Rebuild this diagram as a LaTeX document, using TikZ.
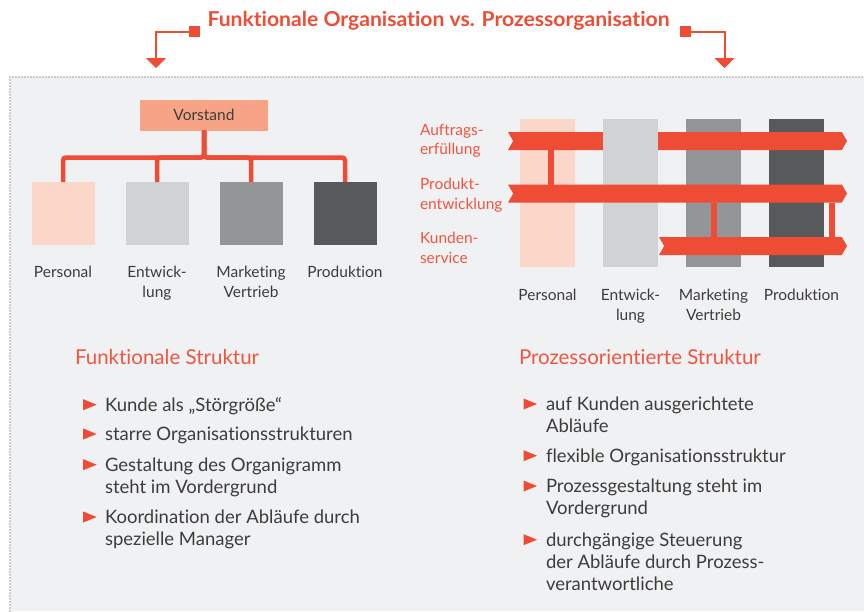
\documentclass[tikz,border=0pt]{standalone}
\usepackage{fontspec}
\setmainfont{Lato}[Ligatures={CommonOff,ContextualOff}]
\usetikzlibrary{trees}
\usetikzlibrary{positioning}
\usetikzlibrary{shapes.symbols}
\usetikzlibrary{shapes.geometric}
\usetikzlibrary{arrows.meta}

\definecolor{orgred}{HTML}{EE4C34}
\definecolor{txtred}{HTML}{EF5641}
\definecolor{vorstandcol}{HTML}{F7A386}
\definecolor{perscol}{HTML}{FBD7C9}
\definecolor{entcol}{HTML}{D1D2D4}
\definecolor{markcol}{HTML}{939598}
\definecolor{prodcol}{HTML}{58595B}
\definecolor{bgcol}{HTML}{F0F1F3}
\definecolor{txtgray}{HTML}{3C3C3C}

\begin{document}
\begin{tikzpicture}[x=1pt,y=-1pt,
    every node/.style={inner sep=0pt,outer sep=0pt,text=txtgray},
    orgline/.style={draw=orgred,line width=4.5pt,rounded corners=3pt},
    vorstandbox/.style={fill=vorstandcol,minimum width=128pt,minimum height=31pt,font=\fontsize{15.5}{19}\selectfont},
    deptbox/.style={minimum width=63pt,minimum height=63pt},
    deptlabel/.style={align=center,font=\fontsize{15.5}{20}\selectfont},
    column/.style={minimum width=55pt,minimum height=148pt},
    band/.style={signal,signal to=east,signal from=west,signal pointer angle=120,fill=orgred,minimum height=18pt},
    bandlink/.style={draw=orgred,line width=6pt},
    bandlabel/.style={align=left,text=txtred,font=\fontsize{15.5}{19.5}\selectfont},
    headline/.style={text=txtred,font=\fontsize{20.5}{24}\selectfont},
    bullet/.style={isosceles triangle,isosceles triangle stretches,fill=orgred,minimum width=11pt,minimum height=13.5pt},
    itemtext/.style={align=left,font=\fontsize{18.5}{22}\selectfont},
    titlearrow/.style={draw=orgred,line width=2pt,-{Triangle[width=20pt,length=10pt]}},
    sq/.style={fill=orgred,minimum size=11pt},
    frame/.style={draw=gray!75,line width=1.6pt,dash pattern=on 0pt off 3pt,line cap=round},
    level distance=98.5pt,sibling distance=94pt,
    edge from parent/.style={orgline},
    edge from parent path={(\tikzparentnode.south) -- +(0pt,-27pt) -| (\tikzchildnode.north)}]
    \useasboundingbox (0,0) rectangle (864,611);
    % background
    \fill[bgcol] (10,77) rectangle (864,611);
    \draw[frame] (10,611) -- (10,77) -- (864,77);

    % title
    \node[anchor=base,text=orgred,font=\bfseries\fontsize{20.5}{24}\selectfont] (title) at (438.5,26) {\scalebox{1.03}[1]{Funktionale Organisation vs. Prozessorganisation}};
    \node[sq] (sqL) at (194.5,31.5) {};
    \node[sq] (sqR) at (685.5,31.5) {};
    \coordinate (tipL) at (156,68);
    \coordinate (tipR) at (724.5,68);
    \draw[titlearrow] (sqL.west) -| (tipL);
    \draw[titlearrow] (sqR.east) -| (tipR);

    % functional structure
    \node[vorstandbox] (vorstand) at (204,115) {Vorstand}
      child {node[deptbox,fill=perscol] (persL) {}}
      child {node[deptbox,fill=entcol] (entL) {}}
      child {node[deptbox,fill=markcol] (markL) {}}
      child {node[deptbox,fill=prodcol] (prodL) {}};
    \node[deptlabel,below=21pt of persL] (persLtxt) {Personal};
    \node[deptlabel,below=21pt of entL] (entLtxt) {Entwick-\\lung};
    \node[deptlabel,below=21pt of markL] (markLtxt) {Marketing\\Vertrieb};
    \node[deptlabel,below=21pt of prodL] (prodLtxt) {Produktion};

    % process structure
    \node[column,fill=perscol] (persR) at (547.5,193) {};
    \node[column,fill=markcol] (markR) at (713.5,193) {};
    \node[column,fill=prodcol] (prodR) at (796.5,193) {};
    \node[band,minimum width=339pt] (auftrag) at (677.5,141) {};
    \node[column,fill=entcol] (entR) at (630.5,193) {};
    \node[band,minimum width=339pt] (produkt) at (677.5,193.5) {};
    \node[band,minimum width=188pt] (kunden) at (753,246) {};
    \coordinate (linkA) at ([xshift=3.5pt]persR.center);
    \coordinate (linkC) at ([xshift=8pt]prodR.east);
    \draw[bandlink] (auftrag.south -| linkA) -- (produkt.north -| linkA);
    \draw[bandlink] (produkt.south -| markR) -- (kunden.north -| markR);
    \draw[bandlink] (produkt.south -| linkC) -- (kunden.north -| linkC);
    \node[bandlabel,anchor=west] (aufLbl) at (420,141) {Auftrags-\\erfüllung};
    \node[bandlabel,anchor=west] (proLbl) at (420,195) {Produkt-\\entwicklung};
    \node[bandlabel,anchor=west] (kunLbl) at (420,248) {Kunden-\\service};
    \node[deptlabel,below=22pt of persR] (persRtxt) {Personal};
    \node[deptlabel,below=22pt of entR] (entRtxt) {Entwick-\\lung};
    \node[deptlabel,below=22pt of markR] (markRtxt) {Marketing\\Vertrieb};
    \node[deptlabel,below=22pt of prodR,xshift=5pt] (prodRtxt) {Produktion};

    % lists
    \node[headline,anchor=base west] (funkHead) at (75,364) {Funktionale Struktur};
    \node[headline,anchor=base west] (prozHead) at (519,364) {Prozessorientierte Struktur};

    \node[bullet,anchor=apex] (fb1) at (96.7,404.7) {};
    \node[itemtext,anchor=north west] (fi1) at (105,396) {\strut Kunde als „Störgröße“};
    \node[bullet,anchor=apex] (fb2) at (96.7,434) {};
    \node[itemtext,anchor=north west] (fi2) at (105,425.3) {\strut starre Organisationsstrukturen};
    \node[bullet,anchor=apex] (fb3) at (96.7,464.7) {};
    \node[itemtext,anchor=north west] (fi3) at (105,456) {\strut Gestaltung des Organigramm\\steht im Vordergrund};
    \node[bullet,anchor=apex] (fb4) at (96.7,517) {};
    \node[itemtext,anchor=north west] (fi4) at (105,508.3) {\strut Koordination der Abläufe durch\\spezielle Manager};

    \node[bullet,anchor=apex] (pb1) at (537,404) {};
    \node[itemtext,anchor=north west] (pi1) at (546,395.3) {\strut auf Kunden ausgerichtete\\Abläufe};
    \node[bullet,anchor=apex] (pb2) at (537,455.7) {};
    \node[itemtext,anchor=north west] (pi2) at (546,447) {\strut flexible Organisationsstruktur};
    \node[bullet,anchor=apex] (pb3) at (537,486) {};
    \node[itemtext,anchor=north west] (pi3) at (546,477.3) {\strut Prozessgestaltung steht im\\Vordergrund};
    \node[bullet,anchor=apex] (pb4) at (537,539.7) {};
    \node[itemtext,anchor=north west] (pi4) at (546,531) {\strut durchgängige Steuerung\\der Abläufe durch Prozess-\\verantwortliche};
\end{tikzpicture}
\end{document}
